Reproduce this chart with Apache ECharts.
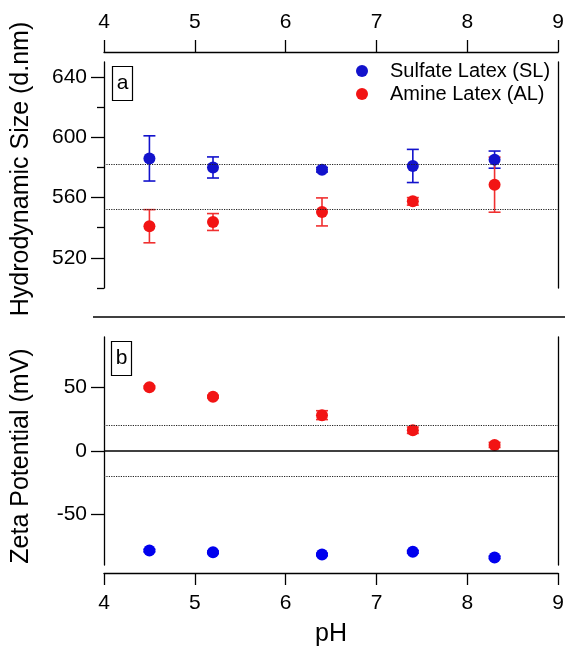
<!DOCTYPE html>
<html>
<head>
<meta charset="utf-8">
<script src="https://cdn.jsdelivr.net/npm/echarts@6/dist/echarts.min.js"></script>
<style>html,body{margin:0;padding:0;background:#fff;}#c{width:567px;height:651px;}</style>
</head>
<body>
<div id="c"></div>
<script>
// ---- data ----
const pH = [4.5, 5.2, 6.4, 7.4, 8.3];
const sizeSL = [586, 580, 578.5, 581, 585.2];
const sizeSLErr = [15, 7, 1.5, 11, 5.7];
const sizeAL = [541, 543.8, 550.5, 557.5, 568.6];
const sizeALErr = [11, 5.6, 9.3, 2.5, 18.3];
const zetaSL = [-78.6, -80, -81.7, -79.6, -84];
const zetaSLErr = [1, 1, 1, 1, 1];
const zetaAL = [50.3, 42.9, 28.3, 16.4, 4.8];
const zetaALErr = [1, 1, 3.5, 2.5, 2];
const sizeRefLines = [582, 552];
const zetaRefDotted = [20, -20];
const zetaZero = 0;
const sizeMajorTicks = [520, 560, 600, 640];
const sizeMinorTicks = [500, 540, 580, 620];
const zetaTicks = [-50, 0, 50];
const nameSL = 'Sulfate Latex (SL)';
const nameAL = 'Amine Latex (AL)';

const FONT = "'Liberation Sans', Arial, sans-serif";
const BLUE_A = '#1212cc';
const BLUE_B = '#0000ee';
const RED = '#f21414';
const RED_ERR = '#f03030';

const chart = echarts.init(document.getElementById('c'), null, {renderer: 'canvas'});

function errData(vals, errs) { return pH.map((p, i) => [p, vals[i], errs[i]]); }
function ptData(vals) { return pH.map((p, i) => [p, vals[i]]); }
function errRender(color) {
  return function (params, api) {
    const x = api.value(0), y = api.value(1), e = api.value(2);
    const t = api.coord([x, y + e]);
    const b = api.coord([x, y - e]);
    const hw = 6;
    const st = {stroke: color, lineWidth: 1.6};
    return {type: 'group', children: [
      {type: 'line', shape: {x1: t[0], y1: t[1], x2: b[0], y2: b[1]}, style: st},
      {type: 'line', shape: {x1: t[0] - hw, y1: t[1], x2: t[0] + hw, y2: t[1]}, style: st},
      {type: 'line', shape: {x1: b[0] - hw, y1: b[1], x2: b[0] + hw, y2: b[1]}, style: st}
    ]};
  };
}

const axisLineStyle = {color: '#000', width: 1.3};
const labelStyle = {color: '#000', fontSize: 21, fontFamily: FONT};

const option = {
  animation: false,
  backgroundColor: '#fff',
  textStyle: {fontFamily: FONT},
  grid: [
    {left: 104, right: 8, top: 62, height: 226},
    {left: 104, right: 8, top: 337, height: 228}
  ],
  legend: {
    orient: 'vertical', left: 351, top: 56, itemGap: 3,
    itemWidth: 12, itemHeight: 12, icon: 'circle',
    data: [nameSL, nameAL],
    textStyle: {fontSize: 20, color: '#000', fontFamily: FONT, padding: [0, 0, 0, 17]}
  },
  xAxis: [
    {gridIndex: 0, type: 'value', position: 'top', offset: 10, min: 4, max: 9, interval: 1,
     axisLine: {show: true, onZero: false, lineStyle: axisLineStyle},
     axisTick: {show: true, inside: false, length: 12, lineStyle: axisLineStyle},
     axisLabel: Object.assign({margin: 19}, labelStyle),
     splitLine: {show: false}},
    {gridIndex: 1, type: 'value', position: 'bottom', offset: 8, min: 4, max: 9, interval: 1,
     name: 'pH', nameLocation: 'middle', nameGap: 49,
     nameTextStyle: {fontSize: 25, color: '#000', fontFamily: FONT},
     axisLine: {show: true, onZero: false, lineStyle: axisLineStyle},
     axisTick: {show: true, inside: false, length: 12, lineStyle: axisLineStyle},
     axisLabel: Object.assign({margin: 20}, labelStyle),
     splitLine: {show: false}}
  ],
  yAxis: [
    {gridIndex: 0, type: 'value', position: 'left', min: 500, max: 650,
     name: 'Hydrodynamic Size (d.nm)', nameLocation: 'middle', nameGap: 70,
     nameTextStyle: {fontSize: 25, color: '#000', fontFamily: FONT, padding: [0, 0, 0, 12]},
     axisLine: {show: true, onZero: false, lineStyle: axisLineStyle},
     axisTick: {show: true, inside: false, length: 13, customValues: sizeMajorTicks, lineStyle: axisLineStyle},
     axisLabel: Object.assign({margin: 17, customValues: sizeMajorTicks}, labelStyle),
     splitLine: {show: false}},
    {gridIndex: 0, type: 'value', position: 'left', min: 500, max: 650,
     axisLine: {show: false, onZero: false},
     axisTick: {show: true, inside: false, length: 7, customValues: sizeMinorTicks, lineStyle: axisLineStyle},
     axisLabel: {show: false}, splitLine: {show: false}},
    {gridIndex: 0, type: 'value', position: 'right', min: 500, max: 650,
     axisLine: {show: true, onZero: false, lineStyle: axisLineStyle},
     axisTick: {show: false}, axisLabel: {show: false}, splitLine: {show: false}},
    {gridIndex: 1, type: 'value', position: 'left', min: -90, max: 90,
     name: 'Zeta Potential (mV)', nameLocation: 'middle', nameGap: 70,
     nameTextStyle: {fontSize: 25, color: '#000', fontFamily: FONT, padding: [0, 10, 0, 0]},
     axisLine: {show: true, onZero: false, lineStyle: axisLineStyle},
     axisTick: {show: true, inside: false, length: 13, customValues: zetaTicks, lineStyle: axisLineStyle},
     axisLabel: Object.assign({margin: 17, customValues: zetaTicks}, labelStyle),
     splitLine: {show: false}},
    {gridIndex: 1, type: 'value', position: 'right', min: -90, max: 90,
     axisLine: {show: true, onZero: false, lineStyle: axisLineStyle},
     axisTick: {show: false}, axisLabel: {show: false}, splitLine: {show: false}}
  ],
  series: [
    {type: 'custom', xAxisIndex: 0, yAxisIndex: 0, renderItem: errRender(BLUE_A),
     data: errData(sizeSL, sizeSLErr), z: 2, silent: true,
     markLine: {silent: true, symbol: 'none', label: {show: false},
       lineStyle: {type: 'dotted', color: '#222', width: 1.2},
       data: sizeRefLines.map(v => ({yAxis: v}))}},
    {type: 'custom', xAxisIndex: 0, yAxisIndex: 0, renderItem: errRender(RED_ERR),
     data: errData(sizeAL, sizeALErr), z: 2, silent: true},
    {type: 'scatter', name: nameSL, xAxisIndex: 0, yAxisIndex: 0, symbol: 'circle', symbolSize: 12,
     itemStyle: {color: BLUE_A, opacity: 1}, data: ptData(sizeSL), z: 3},
    {type: 'scatter', name: nameAL, xAxisIndex: 0, yAxisIndex: 0, symbol: 'circle', symbolSize: 12,
     itemStyle: {color: RED, opacity: 1}, data: ptData(sizeAL), z: 3},

    {type: 'custom', xAxisIndex: 1, yAxisIndex: 3, renderItem: errRender(BLUE_B),
     data: errData(zetaSL, zetaSLErr), z: 2, silent: true,
     markLine: {silent: true, symbol: 'none', label: {show: false},
       data: [
         ...zetaRefDotted.map(v => ({yAxis: v, lineStyle: {type: 'dotted', color: '#222', width: 1.2}})),
         {yAxis: zetaZero, lineStyle: {type: 'solid', color: '#000', width: 1.6}}
       ]}},
    {type: 'custom', xAxisIndex: 1, yAxisIndex: 3, renderItem: errRender(RED_ERR),
     data: errData(zetaAL, zetaALErr), z: 2, silent: true},
    {type: 'scatter', name: nameSL, xAxisIndex: 1, yAxisIndex: 3, symbol: 'circle', symbolSize: 12,
     itemStyle: {color: BLUE_B, opacity: 1}, data: ptData(zetaSL), z: 3},
    {type: 'scatter', name: nameAL, xAxisIndex: 1, yAxisIndex: 3, symbol: 'circle', symbolSize: 12,
     itemStyle: {color: RED, opacity: 1}, data: ptData(zetaAL), z: 3}
  ],
  graphic: [
    {type: 'line', shape: {x1: 93, y1: 317, x2: 565, y2: 317}, style: {stroke: '#000', lineWidth: 1.3}},
    {type: 'rect', shape: {x: 112.5, y: 66.5, width: 20, height: 34}, style: {fill: 'none', stroke: '#000', lineWidth: 1.2}},
    {type: 'text', x: 122.5, y: 83.5, style: {text: 'a', fontSize: 21, fontFamily: FONT, fill: '#000', align: 'center', verticalAlign: 'middle'}},
    {type: 'rect', shape: {x: 111.5, y: 341.5, width: 20, height: 34}, style: {fill: 'none', stroke: '#000', lineWidth: 1.2}},
    {type: 'text', x: 121.5, y: 358.5, style: {text: 'b', fontSize: 21, fontFamily: FONT, fill: '#000', align: 'center', verticalAlign: 'middle'}}
  ]
};
chart.setOption(option);
</script>
</body>
</html>
